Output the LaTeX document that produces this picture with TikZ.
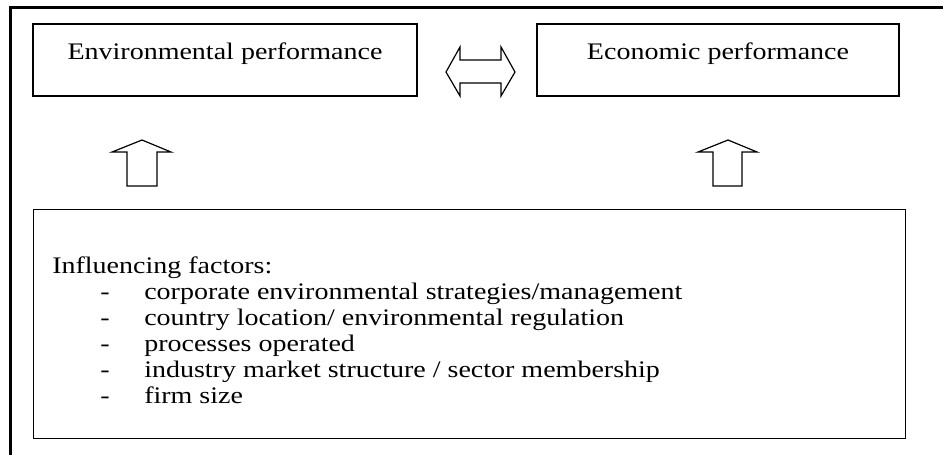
\documentclass[tikz,border=0pt]{standalone}
\usepackage{fontspec}
\setmainfont{Liberation Serif}[FakeStretch=1.18]
\tikzset{
	perfbox/.style={draw, line width=0.8pt, minimum width=288pt, minimum height=54pt,
		inner sep=0pt, text height=12pt, text depth=13.5pt},
	blockarrow/.style={draw, line width=0.9pt, line join=miter, fill=white},
}
\begin{document}
\begin{tikzpicture}[x=0.75pt, y=-0.75pt, every node/.style={font=\fontsize{17.8pt}{19.5pt}\selectfont}]
	\useasboundingbox (0,0) rectangle (943,454);
	% frame
	\draw[line width=2.25pt] (950,7.5) -- (10.5,7.5) -- (10.5,460);
	% performance boxes
	\node[perfbox] (envperf) at (225,60) {Environmental performance};
	\node[perfbox, minimum width=271.5pt] (ecoperf) at (718,60) {Economic performance};
	\draw[blockarrow] (446,72) -- (460,47) -- (460,60) -- (501,60) -- (501,47) -- (515,72)
		-- (501,96) -- (501,83) -- (460,83) -- (460,96) -- cycle;
	% up arrows
	\draw[blockarrow] (142,140) -- (171,152) -- (157,152) -- (157,186) -- (127,186) -- (127,152) -- (112,152) -- cycle;
	\draw[blockarrow] (728,140) -- (757,152) -- (742,152) -- (742,186) -- (713,186) -- (713,152) -- (698,152) -- cycle;
	% factors
	\node[draw, line width=0.9pt, anchor=north west, minimum width=654pt, minimum height=171.75pt] (factors) at (33,209) {};
	\def\dash{\makebox[69pt][l]{\hspace{36pt}-}}
	\node[anchor=north west, inner sep=0pt, align=left] (factorlist) at (52,257) {Influencing factors:\\
		\dash corporate environmental strategies/management\\
		\dash country location/ environmental regulation\\
		\dash processes operated\\
		\dash industry market structure / sector membership\\
		\dash firm size};
\end{tikzpicture}
\end{document}
